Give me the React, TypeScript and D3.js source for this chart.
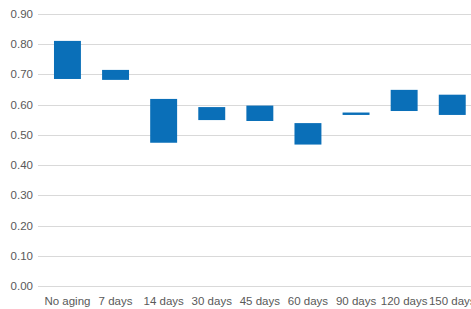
import React from "react";
import * as d3 from "d3";

// categories and the low/high end of each floating bar
const categories = ["No aging", "7 days", "14 days", "30 days", "45 days", "60 days", "90 days", "120 days", "150 days"];
const lowValues = [0.685, 0.682, 0.474, 0.549, 0.546, 0.468, 0.566, 0.579, 0.566];
const highValues = [0.811, 0.715, 0.619, 0.592, 0.597, 0.539, 0.574, 0.649, 0.633];
const yTicks = [0, 0.1, 0.2, 0.3, 0.4, 0.5, 0.6, 0.7, 0.8, 0.9];

const W = 471;
const H = 309;

export default function App() {
  const x = d3.scaleBand<string>().domain(categories).range([43.4, 476.3]).paddingInner(0.44).paddingOuter(0.22);
  const y = d3.scaleLinear().domain([0, 0.9]).range([286, 14]);

  return (
    <svg width={W} height={H} style={{ position: "absolute", left: 0, top: 0 }}>
      <rect width={W} height={H} fill="#fff" />
      {/* gridlines */}
      {yTicks.map((t) => (
        <line key={t} x1={38} x2={W} y1={Math.round(y(t)) + 0.5} y2={Math.round(y(t)) + 0.5} stroke="#d9d9d9" strokeWidth={1} />
      ))}
      {/* y labels */}
      {yTicks.map((t) => (
        <text key={"l" + t} x={33} y={y(t) + 4} textAnchor="end" fontSize={11.5} fill="#595959" fontFamily="Liberation Sans, Arial, sans-serif">
          {d3.format(".2f")(t)}
        </text>
      ))}
      {/* bars */}
      {categories.map((c, i) => (
        <rect
          key={c}
          x={x(c)}
          width={x.bandwidth()}
          y={y(highValues[i])}
          height={y(lowValues[i]) - y(highValues[i])}
          fill="#0a6fb8"
        />
      ))}
      {/* x labels */}
      {categories.map((c) => (
        <text key={"x" + c} x={x(c)! + x.bandwidth() / 2} y={305} textAnchor="middle" fontSize={11.5} fill="#595959" fontFamily="Liberation Sans, Arial, sans-serif">
          {c}
        </text>
      ))}
    </svg>
  );
}
